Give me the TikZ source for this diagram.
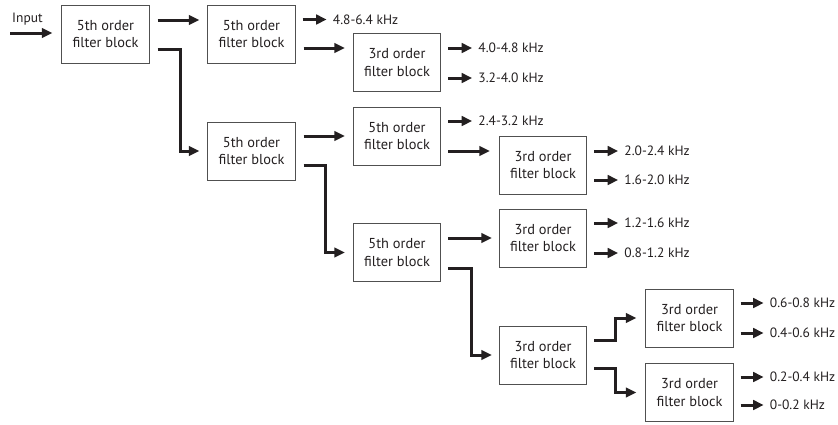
\documentclass[tikz,border=0pt]{standalone}
\usepackage{fontspec}
\setmainfont{PT Sans}
\usetikzlibrary{arrows.meta,calc}
\definecolor{ink}{HTML}{231F20}
\definecolor{boxline}{HTML}{505050}
\tikzset{
  blk/.style={draw=boxline, line width=0.9pt, minimum width=87.5pt, minimum height=58pt,
    align=center, inner sep=0pt, text=ink, font=\fontsize{14.4}{17.3}\selectfont},
  lbl/.style={anchor=west, inner sep=0pt, text=ink, font=\fontsize{13.5}{16}\selectfont},
  arr/.style={draw=ink, line width=3pt, line join=miter,
    -{Triangle[length=10.5pt,width=9.5pt]}},
}
\newcommand{\fiveblk}{5th order\\filter block}
\newcommand{\threeblk}{3rd order\\filter block}
\begin{document}
\begin{tikzpicture}[x=1pt,y=-1pt]
\useasboundingbox (0,0) rectangle (838,424);
% blocks
\node[blk] (B1) at (105.5,34) {\fiveblk};
\node[blk] (B2) at (251.5,34) {\fiveblk};
\node[blk] (B3) at (251.5,151) {\fiveblk};
\node[blk] (B4) at (397,62.5) {\threeblk};
\node[blk] (B5) at (397,136) {\fiveblk};
\node[blk] (B6) at (543,165) {\threeblk};
\node[blk] (B7) at (397,252.5) {\fiveblk};
\node[blk] (B8) at (543,238) {\threeblk};
\node[blk] (B9) at (543,355) {\threeblk};
\node[blk] (B10) at (689.5,318) {\threeblk};
\node[blk] (B11) at (689.5,392.5) {\threeblk};
% input
\node[lbl] (IN) at (12,19) {Input};
\coordinate (in) at (10,33);
\draw[arr, shorten >=9pt] (in) -- (in -| B1.west);
% straight block-to-block arrows
\coordinate (s12) at ([shift={(8,-14)}]B1.east);
\draw[arr, shorten >=8pt] (s12) -- (s12 -| B2.west);
\coordinate (s24) at ([shift={(8,14)}]B2.east);
\draw[arr, shorten >=8pt] (s24) -- (s24 -| B4.west);
\coordinate (s35) at ([shift={(8,-15)}]B3.east);
\draw[arr, shorten >=8pt] (s35) -- (s35 -| B5.west);
\coordinate (s56) at ([shift={(7,15)}]B5.east);
\draw[arr, shorten >=9pt] (s56) -- (s56 -| B6.west);
\coordinate (s78) at ([shift={(7,-14.5)}]B7.east);
\draw[arr, shorten >=7pt] (s78) -- (s78 -| B8.west);
% elbow arrows
\draw[arr] ([shift={(8,15)}]B1.east) -- ++(23,0) |- ([shift={(-8,0)}]B3.west);
\draw[arr] ([shift={(8,14)}]B3.east) -- ++(22,0) |- ([shift={(-8,0)}]B7.west);
\draw[arr] ([shift={(7,15.5)}]B7.east) -- ++(23,0) |- ([shift={(-7,0)}]B9.west);
\draw[arr] ([shift={(7,-15)}]B9.east) -- ++(21,0) |- ([shift={(-9,0)}]B10.west);
\draw[arr] ([shift={(7,13)}]B9.east) -- ++(21,0) |- ([shift={(-9,0)}]B11.west);
% output labels
\node[lbl] (L1) at ([shift={(37,-14.5)}]B2.east) {4.8-6.4 kHz};
\node[lbl] (L2) at ([shift={(37,-14.5)}]B4.east) {4.0-4.8 kHz};
\node[lbl] (L3) at ([shift={(37,15.5)}]B4.east) {3.2-4.0 kHz};
\node[lbl] (L4) at ([shift={(37,-15)}]B5.east) {2.4-3.2 kHz};
\node[lbl] (L5) at ([shift={(37,-14)}]B6.east) {2.0-2.4 kHz};
\node[lbl] (L6) at ([shift={(37,15)}]B6.east) {1.6-2.0 kHz};
\node[lbl] (L7) at ([shift={(37,-15)}]B8.east) {1.2-1.6 kHz};
\node[lbl] (L8) at ([shift={(37,15)}]B8.east) {0.8-1.2 kHz};
\node[lbl] (L9) at ([shift={(36,-15)}]B10.east) {0.6-0.8 kHz};
\node[lbl] (L10) at ([shift={(36,15)}]B10.east) {0.4-0.6 kHz};
\node[lbl] (L11) at ([shift={(36,-15.5)}]B11.east) {0.2-0.4 kHz};
\node[lbl] (L12) at ([shift={(36,12.5)}]B11.east) {0-0.2 kHz};
\foreach \b/\l in {B2/L1,B4/L2,B4/L3,B5/L4,B6/L5,B6/L6,B8/L7,B8/L8,B10/L9,B10/L10,B11/L11,B11/L12}{
  \draw[arr, shorten <=7pt, shorten >=6pt] (\b.east |- \l.west) -- (\l.west);
}
\end{tikzpicture}
\end{document}
